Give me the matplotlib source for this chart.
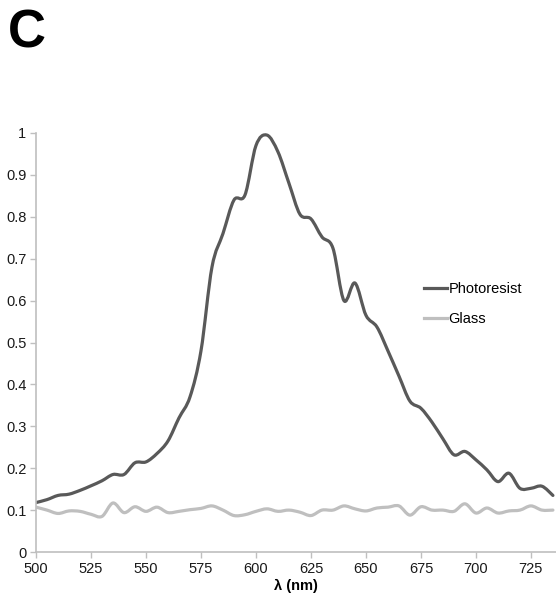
import matplotlib
matplotlib.use('Agg')
import matplotlib.pyplot as plt
import numpy as np
from matplotlib.path import Path
from matplotlib.patches import PathPatch
from matplotlib.lines import Line2D

# wavelength grid (nm) and normalised spectra
wavelength = [500, 505, 510, 515, 520, 525, 530, 535, 540, 545, 550, 555,
              560, 565, 570, 575, 580, 585, 590, 595, 600, 605, 610, 615,
              620, 625, 630, 635, 640, 645, 650, 655, 660, 665, 670, 675,
              680, 685, 690, 695, 700, 705, 710, 715, 720, 725, 730, 735]
photoresist = [0.118, 0.125, 0.135, 0.138, 0.147, 0.158, 0.170, 0.185, 0.185, 0.213, 0.215, 0.235,
               0.265, 0.320, 0.370, 0.480, 0.680, 0.760, 0.840, 0.852, 0.970, 0.995, 0.955, 0.880,
               0.806, 0.795, 0.752, 0.725, 0.600, 0.642, 0.565, 0.537, 0.480, 0.420, 0.360, 0.343,
               0.310, 0.270, 0.232, 0.240, 0.220, 0.196, 0.168, 0.188, 0.152, 0.152, 0.157, 0.135]
glass = [0.107, 0.100, 0.092, 0.098, 0.097, 0.090, 0.085, 0.117, 0.094, 0.108, 0.097, 0.107,
         0.094, 0.097, 0.101, 0.104, 0.110, 0.100, 0.087, 0.089, 0.097, 0.103, 0.097, 0.100,
         0.095, 0.087, 0.100, 0.100, 0.110, 0.103, 0.098, 0.105, 0.107, 0.110, 0.088, 0.108,
         0.100, 0.100, 0.097, 0.115, 0.093, 0.105, 0.093, 0.098, 0.100, 0.110, 0.100, 0.100]

x_ticks = [500, 525, 550, 575, 600, 625, 650, 675, 700, 725]
y_ticks = [0, 0.1, 0.2, 0.3, 0.4, 0.5, 0.6, 0.7, 0.8, 0.9, 1]
y_ticklabels = ['0', '0.1', '0.2', '0.3', '0.4', '0.5', '0.6', '0.7', '0.8', '0.9', '1']

C_DARK = '#595959'
C_LIGHT = '#bfbfbf'
AXIS_C = '#bfbfbf'
NARROW = ['Liberation Sans Narrow', 'Liberation Sans', 'DejaVu Sans']


def smooth_path(xs, ys):
    """Excel-style smoothed line: Catmull-Rom segments drawn as cubic Beziers."""
    p = np.column_stack([xs, ys]).astype(float)
    n = len(p)
    verts = [p[0]]
    codes = [Path.MOVETO]
    for i in range(n - 1):
        p0 = p[i - 1] if i > 0 else p[i]
        p3 = p[i + 2] if i + 2 < n else p[i + 1]
        c1 = p[i] + (p[i + 1] - p0) / 6.0
        c2 = p[i + 1] - (p3 - p[i]) / 6.0
        verts += [c1, c2, p[i + 1]]
        codes += [Path.CURVE4] * 3
    return Path(verts, codes)


fig = plt.figure(figsize=(5.56, 5.97), dpi=100)
ax = fig.add_axes([36 / 556, 45 / 597, 1 - 36 / 556, 419 / 597])

for ys, col in [(glass, C_LIGHT), (photoresist, C_DARK)]:
    patch = PathPatch(smooth_path(wavelength, ys), facecolor='none', edgecolor=col,
                      lw=2.3, capstyle='round', joinstyle='round', clip_on=True)
    ax.add_patch(patch)

ax.set_xlim(500, 736.4)
ax.set_ylim(0, 1.0)

for s in ['top', 'right']:
    ax.spines[s].set_visible(False)
for s in ['left', 'bottom']:
    ax.spines[s].set_color(AXIS_C)
    ax.spines[s].set_linewidth(1.2)

ax.set_xticks(x_ticks)
ax.set_yticks(y_ticks)
ax.set_yticklabels(y_ticklabels)
ax.tick_params(axis='both', colors=AXIS_C, length=4, width=1.0, labelcolor='#1a1a1a',
               labelsize=10.5, pad=3)
for lab in ax.get_xticklabels() + ax.get_yticklabels():
    lab.set_family(NARROW)

ax.set_xlabel('λ (nm)', fontsize=10.5, fontweight='bold', family=NARROW, labelpad=2)

handles = [Line2D([], [], color=C_DARK, lw=2.3), Line2D([], [], color=C_LIGHT, lw=2.3)]
leg = ax.legend(handles, ['Photoresist', 'Glass'], loc='center left',
                bbox_to_anchor=(0.72, 0.592), frameon=False, handlelength=1.6,
                handletextpad=0.1, labelspacing=1.05,
                prop={'family': ['Liberation Sans', 'DejaVu Sans'], 'size': 10.5})

fig.text(27 / 556, 1 - 34 / 597, 'C', fontsize=38, fontweight='bold',
         family=['Liberation Sans', 'DejaVu Sans'], ha='center', va='center')

fig.savefig('out.png', dpi=100)
